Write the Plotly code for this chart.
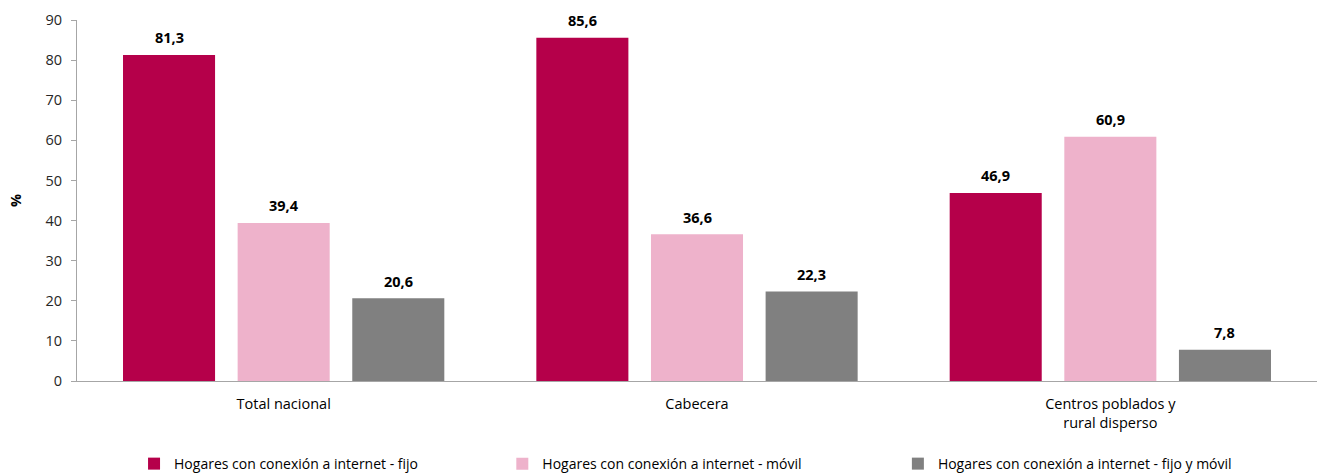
import plotly.graph_objects as go

categories = ["Total nacional", "Cabecera", "Centros poblados y<br>rural disperso"]
series_names = [
    "Hogares con conexión a internet - fijo",
    "Hogares con conexión a internet - móvil",
    "Hogares con conexión a internet - fijo y móvil",
]
fijo = [81.3, 85.6, 46.9]
movil = [39.4, 36.6, 60.9]
fijo_movil = [20.6, 22.3, 7.8]
colors = ["#B5004A", "#EEB2CB", "#808080"]
y_ticks = [0, 10, 20, 30, 40, 50, 60, 70, 80, 90]

FONT = "Open Sans"
FS = 14.5

def fmt(v):
    return f"{v:.1f}".replace(".", ",")

legend_names = ["legend", "legend2", "legend3"]
legend_x = [0.046, 0.343, 0.662]
slot_px = 114.5  # pixel width of each bar slot within a group (style)

fig = go.Figure()
for i, (name, vals, col) in enumerate(zip(series_names, [fijo, movil, fijo_movil], colors)):
    fig.add_trace(go.Bar(
        x=categories, y=vals, name=name,
        marker=dict(color=col, line=dict(width=0)),
        legend=legend_names[i],
    ))
    for c, v in zip(categories, vals):
        fig.add_annotation(
            x=c, y=v, xref="x", yref="y",
            text=f"<b>{fmt(v)}</b>", showarrow=False,
            xshift=(i - 1) * slot_px, yshift=17, yanchor="middle",
            font=dict(family=FONT, size=FS, color="#000000"),
        )

leg_common = dict(
    orientation="h", yanchor="middle", xanchor="left", y=-0.23,
    font=dict(family=FONT, size=14, color="#000000"),
    bgcolor="rgba(0,0,0,0)", itemclick=False, itemdoubleclick=False,
)

fig.update_layout(
    width=1323, height=473,
    margin=dict(l=77, r=6, t=20, b=92, autoexpand=False),
    plot_bgcolor="white", paper_bgcolor="white",
    barmode="group", bargap=0.168, bargroupgap=0.197,
    font=dict(family=FONT, size=FS, color="#000000"),
    showlegend=True,
    legend=dict(x=legend_x[0], **leg_common),
    legend2=dict(x=legend_x[1], **leg_common),
    legend3=dict(x=legend_x[2], **leg_common),
    xaxis=dict(
        showline=True, linecolor="#A6A6A6", linewidth=1,
        ticks="", showgrid=False, ticklabelstandoff=10,
        tickfont=dict(family=FONT, size=FS, color="#000000"),
    ),
    yaxis=dict(
        range=[0, 90], tickvals=y_ticks,
        showline=True, linecolor="#A6A6A6", linewidth=1,
        ticks="outside", ticklen=5, tickcolor="#A6A6A6",
        showgrid=False, zeroline=False, ticklabelstandoff=6,
        tickfont=dict(family=FONT, size=FS, color="#262626"),
        title=dict(text="<b>%</b>", font=dict(family=FONT, size=FS, color="#000000"), standoff=20),
    ),
)

fig.write_html("out.html")
